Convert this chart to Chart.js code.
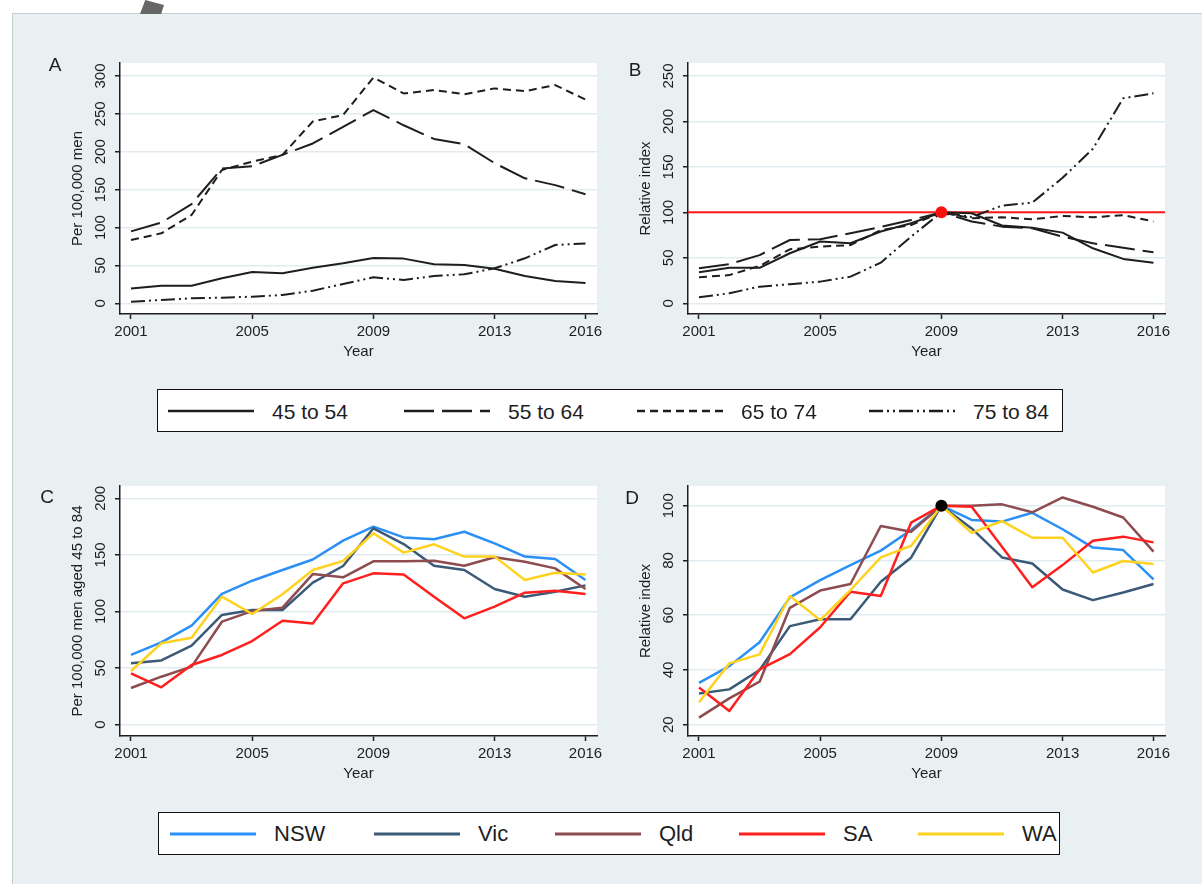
<!DOCTYPE html>
<html>
<head>
<meta charset="utf-8">
<script src="https://cdn.jsdelivr.net/npm/chart.js@4.4.1/dist/chart.umd.min.js"></script>
<style>
  html, body { margin: 0; padding: 0; width: 1202px; height: 884px; overflow: hidden; background: #fff;
    font-family: "Liberation Sans", Arial, Helvetica, sans-serif; color: #1e1e1e; }
  #frame { position: absolute; left: 12px; top: 13px; width: 1190px; height: 871px; background: #e8f0f2;
    border-top: 1px solid #c6ced1; border-left: 1px solid #c6ced1; }
  #tab { position: absolute; left: 140px; top: 0; width: 24px; height: 14px; background: #676767;
    clip-path: polygon(0 100%, 22% 0, 100% 35%, 88% 100%); }
  canvas { position: absolute; }
  .letter { position: absolute; font-size: 19px; line-height: 1; transform: translate(-50%, -50%); }
  .legend { position: absolute; background: #fff; border: 1.5px solid #111; box-sizing: border-box; }
  .legend svg { position: absolute; top: 50%; transform: translateY(-50%); overflow: visible; }
  .legend span { position: absolute; top: 50%; transform: translateY(-50%); line-height: 1; white-space: nowrap; }
</style>
</head>
<body>
<div id="frame"></div>
<div id="tab"></div>

<script>
// ---- data -------------------------------------------------------------
const years = [2001, 2002, 2003, 2004, 2005, 2006, 2007, 2008, 2009, 2010, 2011, 2012, 2013, 2014, 2015, 2016];
const xTickYears = [2001, 2005, 2009, 2013, 2016];
const baseYear = 2009;
const baseIndex = 100;

// Panel A: rate per 100,000 men, by age group
const ageGroups = ['45 to 54', '55 to 64', '65 to 74', '75 to 84'];
const rate45to54 = [19.4, 23.3, 23.3, 33, 41.3, 39.6, 47, 52.8, 59.8, 59, 51.5, 50.6, 45.7, 36, 29.5, 26.8];
const rate55to64 = [95, 106.5, 131, 178, 181, 196, 211, 233, 255, 235, 217, 210, 185, 165, 156, 144];
const rate65to74 = [83.6, 92.4, 116.6, 176, 187, 196, 240, 248.5, 298, 277, 281.5, 276, 283.7, 280, 288, 269];
const rate75to84 = [2.2, 4.4, 6.6, 7.5, 8.8, 11, 16.7, 25.5, 34.3, 30.8, 36, 38.3, 46.2, 59.4, 77, 79];

// Panel B: relative index (2009 = 100), by age group
const index45to54 = [34, 39, 39, 55, 68, 66, 79, 88, 100, 99, 85.5, 83, 77.7, 60.5, 48.8, 44.7];
const index55to64 = [38.5, 43, 53, 69.6, 70.4, 77, 84, 91.6, 100, 90, 84.3, 82.5, 73.3, 66, 61, 56];
const index65to74 = [28.6, 31, 41, 59.4, 62.3, 64, 80.6, 86, 100, 93.5, 94.6, 92.4, 96, 94.6, 97, 90];
const index75to84 = [6.6, 11, 18.3, 21, 23.8, 29.3, 44.7, 73.3, 100, 95, 107.4, 110.7, 138, 170, 225.5, 231];

// Panel C: rate per 100,000 men aged 45 to 84, by state
const states = ['NSW', 'Vic', 'Qld', 'SA', 'WA'];
const rateNSW = [61.6, 72.8, 87.5, 115.5, 127.2, 136.7, 146, 162.6, 175, 165.5, 163.8, 170.5, 160.2, 148.5, 146.4, 127.8];
const rateVic = [54.2, 56.8, 69.8, 97, 101.3, 101.3, 125.5, 140.2, 173.5, 159.6, 140.5, 136.7, 119.9, 113.1, 117.5, 123.1];
const rateQld = [32.4, 42.4, 51.3, 91, 100.4, 103.4, 133.1, 130.2, 144.3, 144.3, 144.9, 140.5, 147.9, 144, 138.1, 119.9];
const rateSA  = [45.4, 33, 52.7, 61.6, 73.9, 91.9, 89.5, 124.9, 133.7, 132.8, 113.1, 94, 104.3, 116.6, 118.4, 115.5];
const rateWA  = [47.4, 71.9, 76.9, 113.1, 97.8, 115.2, 136.7, 144.6, 169.1, 152, 159.4, 148.5, 148.5, 127.8, 134.3, 132.8];

// Panel D: relative index (2009 = 100), by state
const indexNSW = [35.3, 41.4, 50.1, 66.5, 72.8, 78.3, 83.6, 91.1, 100, 94.8, 94.2, 97.4, 91.4, 84.7, 83.8, 73.1];
const indexVic = [31.4, 32.9, 40, 56, 58.5, 58.5, 72.2, 81, 100, 91.7, 81.1, 78.9, 69.4, 65.5, 68.3, 71.4];
const indexQld = [22.6, 29.6, 35.7, 62.7, 69, 71.4, 92.6, 90.5, 100, 100, 100.5, 97.6, 103, 99.6, 95.7, 83.2];
const indexSA  = [33.6, 25, 40.2, 45.8, 55.6, 68.6, 67, 93.8, 100, 99.6, 85, 70.2, 78.3, 87.2, 88.7, 86.6];
const indexWA  = [28.2, 42.4, 45.7, 67, 58.2, 69.2, 81.1, 85.3, 100, 90.1, 94.4, 88.3, 88.3, 75.6, 79.8, 78.7];

// Axis ticks
const yTicksA = [0, 50, 100, 150, 200, 250, 300];
const yTicksB = [0, 50, 100, 150, 200, 250];
const yTicksC = [0, 50, 100, 150, 200];
const yTicksD = [20, 40, 60, 80, 100];

// ---- styles -------------------------------------------------------------
const ink = '#1e1e1e';
const gridColour = '#e1ebef';
const ageDash = [[], [30, 8], [8, 5], [14, 4, 2, 4, 2, 4]];
const stateColours = ['#2b90f6', '#3a5a78', '#8c4c50', '#ff1f1f', '#ffd21f'];

Chart.defaults.font.family = '"Liberation Sans", Arial, Helvetica, sans-serif';
Chart.defaults.font.size = 15;
Chart.defaults.color = ink;

// ---- layout (plot rectangles on the page) ---------------------------------
const Y_AXIS_W = 100, X_AXIS_H = 60, PAD_TOP = 25, PAD_RIGHT = 10;
const panels = {
  A: { l: 120, t: 63, r: 597, b: 314, yMin: -14.1, yMax: 317.2, letter: [55, 64] },
  B: { l: 688, t: 63, r: 1165, b: 314, yMin: -11.8, yMax: 264.3, letter: [635, 69] },
  C: { l: 120, t: 486, r: 597, b: 736, yMin: -10.0, yMax: 210.9, letter: [47, 496] },
  D: { l: 688, t: 486, r: 1165, b: 736, yMin: 15.87, yMax: 107.2, letter: [632, 497] }
};
const xRange = [2000.637, 2016.38];

// white plot region behind grid and data
const plotBackground = {
  id: 'plotBackground',
  beforeDraw(chart) {
    const { ctx, chartArea: a } = chart;
    ctx.save();
    ctx.fillStyle = '#ffffff';
    ctx.fillRect(a.left, a.top, a.right - a.left, a.bottom - a.top);
    ctx.restore();
  }
};

// horizontal reference line at the base index
const referenceLine = {
  id: 'referenceLine',
  beforeDatasetsDraw(chart, args, opts) {
    const { ctx, chartArea: a, scales } = chart;
    const y = scales.y.getPixelForValue(opts.value);
    ctx.save();
    ctx.strokeStyle = opts.color;
    ctx.lineWidth = opts.width;
    ctx.beginPath();
    ctx.moveTo(a.left, y);
    ctx.lineTo(a.right, y);
    ctx.stroke();
    ctx.restore();
  }
};

function series(values) {
  return years.map((yr, i) => ({ x: yr, y: values[i] }));
}

function makePanel(key, datasets, yTicks, yTitle, extraPlugins, pluginOpts) {
  const p = panels[key];
  const cv = document.createElement('canvas');
  const w = p.r - p.l + Y_AXIS_W + PAD_RIGHT;
  const h = p.b - p.t + PAD_TOP + X_AXIS_H;
  cv.width = w; cv.height = h;
  cv.style.left = (p.l - Y_AXIS_W) + 'px';
  cv.style.top = (p.t - PAD_TOP) + 'px';
  cv.style.width = w + 'px'; cv.style.height = h + 'px';
  document.body.appendChild(cv);

  const letter = document.createElement('div');
  letter.className = 'letter';
  letter.textContent = key;
  letter.style.left = p.letter[0] + 'px';
  letter.style.top = p.letter[1] + 'px';
  document.body.appendChild(letter);

  return new Chart(cv, {
    type: 'line',
    data: { datasets },
    options: {
      responsive: false,
      animation: false,
      devicePixelRatio: 1,
      layout: { padding: { left: 0, top: PAD_TOP, right: PAD_RIGHT, bottom: 0 } },
      plugins: Object.assign({ legend: { display: false }, tooltip: { enabled: false } }, pluginOpts || {}),
      elements: { point: { radius: 0 }, line: { tension: 0, borderCapStyle: 'butt', borderJoinStyle: 'round' } },
      scales: {
        x: {
          type: 'linear', min: xRange[0], max: xRange[1],
          afterBuildTicks: s => { s.ticks = xTickYears.map(v => ({ value: v })); },
          afterFit: s => { s.height = X_AXIS_H; },
          grid: { drawOnChartArea: false, drawTicks: true, tickLength: 5, tickColor: ink, tickWidth: 1.5 },
          border: { display: true, color: ink, width: 1.5 },
          ticks: { autoSkip: false, minRotation: 0, maxRotation: 0, padding: 4, color: ink,
                   callback: v => String(v) },
          title: { display: true, text: 'Year', color: ink, font: { size: 15 }, padding: { top: 0, bottom: 13 } }
        },
        y: {
          type: 'linear', min: p.yMin, max: p.yMax,
          afterBuildTicks: s => { s.ticks = yTicks.map(v => ({ value: v })); },
          afterFit: s => { s.width = Y_AXIS_W; },
          grid: { color: gridColour, lineWidth: 1.5, drawTicks: true, tickLength: 5, tickColor: ink, tickWidth: 1.5 },
          border: { display: true, color: ink, width: 1.5 },
          ticks: { autoSkip: false, minRotation: 90, maxRotation: 90, crossAlign: 'center', padding: 1.5, color: ink,
                   callback: v => String(v) },
          title: { display: true, text: yTitle, color: ink, font: { size: 15 }, padding: { top: 49, bottom: 0 } }
        }
      }
    },
    plugins: [plotBackground].concat(extraPlugins || [])
  });
}

// ---- datasets -------------------------------------------------------------
const ageRates = [rate45to54, rate55to64, rate65to74, rate75to84];
const ageIndex = [index45to54, index55to64, index65to74, index75to84];
const stateRates = [rateNSW, rateVic, rateQld, rateSA, rateWA];
const stateIndex = [indexNSW, indexVic, indexQld, indexSA, indexWA];

function ageDatasets(list) {
  return list.map((vals, i) => ({
    label: ageGroups[i], data: series(vals), borderColor: ink, borderWidth: 2,
    borderDash: ageDash[i], pointRadius: 0, order: list.length - i
  }));
}
function stateDatasets(list) {
  return list.map((vals, i) => ({
    label: states[i], data: series(vals), borderColor: stateColours[i], borderWidth: 2.5,
    pointRadius: 0, order: list.length - i
  }));
}
function baseMarker(colour) {
  return { label: 'base', data: [{ x: baseYear, y: baseIndex }], showLine: false,
           pointRadius: 6, pointBackgroundColor: colour, pointBorderColor: colour, pointBorderWidth: 0, order: 0 };
}

makePanel('A', ageDatasets(ageRates), yTicksA, 'Per 100,000 men');
makePanel('B', ageDatasets(ageIndex).concat([baseMarker('#ff1010')]), yTicksB, 'Relative index',
          [referenceLine], { referenceLine: { value: baseIndex, color: '#ff1a1a', width: 2 } });
makePanel('C', stateDatasets(stateRates), yTicksC, 'Per 100,000 men aged 45 to 84');
makePanel('D', stateDatasets(stateIndex).concat([baseMarker('#000000')]), yTicksD, 'Relative index');

// ---- legends --------------------------------------------------------------
function makeLegend(box, labels, lineX, fontSize, styleFor) {
  const el = document.createElement('div');
  el.className = 'legend';
  Object.assign(el.style, { left: box[0] + 'px', top: box[1] + 'px', width: box[2] + 'px', height: box[3] + 'px' });
  labels.forEach((lab, i) => {
    const st = styleFor(i);
    const svg = document.createElementNS('http://www.w3.org/2000/svg', 'svg');
    svg.setAttribute('width', 86); svg.setAttribute('height', 6);
    svg.style.left = lineX[i] + 'px';
    const ln = document.createElementNS('http://www.w3.org/2000/svg', 'line');
    ln.setAttribute('x1', 0); ln.setAttribute('y1', 3); ln.setAttribute('x2', 86); ln.setAttribute('y2', 3);
    ln.setAttribute('stroke', st.color); ln.setAttribute('stroke-width', st.width);
    if (st.dash.length) ln.setAttribute('stroke-dasharray', st.dash.join(' '));
    svg.appendChild(ln);
    el.appendChild(svg);
    const sp = document.createElement('span');
    sp.textContent = lab;
    sp.style.left = (lineX[i] + 104) + 'px';
    sp.style.fontSize = fontSize + 'px';
    el.appendChild(sp);
  });
  document.body.appendChild(el);
}

makeLegend([157, 389, 906, 43], ageGroups, [10, 246, 479, 711], 21,
           i => ({ color: ink, width: 2.5, dash: ageDash[i] }));
makeLegend([158, 812, 902, 43], states, [11, 215, 396, 580, 759], 22,
           i => ({ color: stateColours[i], width: 3, dash: [] }));
</script>
</body>
</html>
